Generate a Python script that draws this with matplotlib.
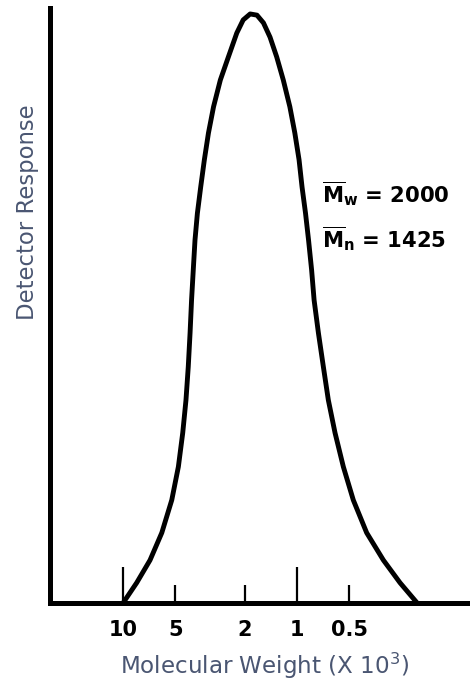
import matplotlib
matplotlib.use("Agg")
import matplotlib.pyplot as plt
from matplotlib.ticker import FixedLocator, FixedFormatter

plt.rcParams['font.family'] = ['DejaVu Sans']
plt.rcParams['mathtext.fontset'] = 'dejavusans'

# Molecular weight (x 10^3) and detector response (relative)
mol_weight = [10.0, 8.35, 7.00, 5.99, 5.25, 4.81, 4.54, 4.35, 4.22, 4.12, 4.04,
              3.94, 3.86, 3.74, 3.58, 3.41, 3.23, 3.02, 2.76, 2.48, 2.22, 2.04,
              1.86, 1.70, 1.56, 1.43, 1.31, 1.20, 1.10, 1.03, 0.974, 0.936,
              0.894, 0.859, 0.825, 0.798, 0.754, 0.706, 0.661, 0.605, 0.542,
              0.475, 0.398, 0.319, 0.256, 0.204]
response = [0.000, 0.034, 0.072, 0.118, 0.173, 0.229, 0.286, 0.341, 0.397, 0.454,
            0.509, 0.565, 0.610, 0.655, 0.699, 0.745, 0.790, 0.834, 0.879, 0.918,
            0.958, 0.980, 0.990, 0.988, 0.975, 0.951, 0.918, 0.879, 0.834, 0.790,
            0.745, 0.699, 0.655, 0.610, 0.560, 0.509, 0.454, 0.397, 0.341, 0.286,
            0.229, 0.173, 0.118, 0.072, 0.034, 0.000]

major_ticks = [10, 1]
major_labels = ['10', '1']
minor_ticks = [5, 2, 0.5]
minor_labels = ['5', '2', '0.5']

fig = plt.figure(figsize=(4.70, 6.88), dpi=100)
ax = fig.add_axes([50/470, 1 - 603/688, 1 - 50/470, (603 - 8)/688])

ax.plot(mol_weight, response, color='black', lw=3.5, solid_capstyle='round',
        solid_joinstyle='round', clip_on=False, zorder=3)

ax.set_xscale('log')
ax.set_xlim(26.3, 0.1014)
ax.set_ylim(0, 1)

for s in ['top', 'right']:
    ax.spines[s].set_visible(False)
for s in ['left', 'bottom']:
    ax.spines[s].set_linewidth(3.6)
    ax.spines[s].set_capstyle('projecting')

ax.xaxis.set_major_locator(FixedLocator(major_ticks))
ax.xaxis.set_major_formatter(FixedFormatter(major_labels))
ax.xaxis.set_minor_locator(FixedLocator(minor_ticks))
ax.xaxis.set_minor_formatter(FixedFormatter(minor_labels))
ax.tick_params(axis='x', which='major', direction='in', length=26, width=1.6,
               pad=12, labelsize=15)
ax.tick_params(axis='x', which='minor', direction='in', length=13, width=1.6,
               pad=12, labelsize=15)
for lab in ax.get_xticklabels(which='both'):
    lab.set_fontweight('bold')
ax.set_yticks([])

label_color = '#4a5672'
fig.text(265/470, 1 - 666/688, 'Molecular Weight (X 10$^{3}$)', ha='center',
         va='center', fontsize=16.6, color=label_color)
fig.text(28/470, 1 - 212/688, 'Detector Response', ha='center', va='center',
         rotation=90, fontsize=16.4, color=label_color)

ax.text(0.648, 0.674, r'$\overline{\mathbf{M}}_{\mathbf{w}}$ = 2000',
        transform=ax.transAxes, ha='left', va='baseline',
        fontsize=15.2, fontweight='bold', color='black')
ax.text(0.648, 0.597, r'$\overline{\mathbf{M}}_{\mathbf{n}}$ = 1425',
        transform=ax.transAxes, ha='left', va='baseline',
        fontsize=15.2, fontweight='bold', color='black')

fig.savefig('out.png', dpi=100, facecolor='white')
